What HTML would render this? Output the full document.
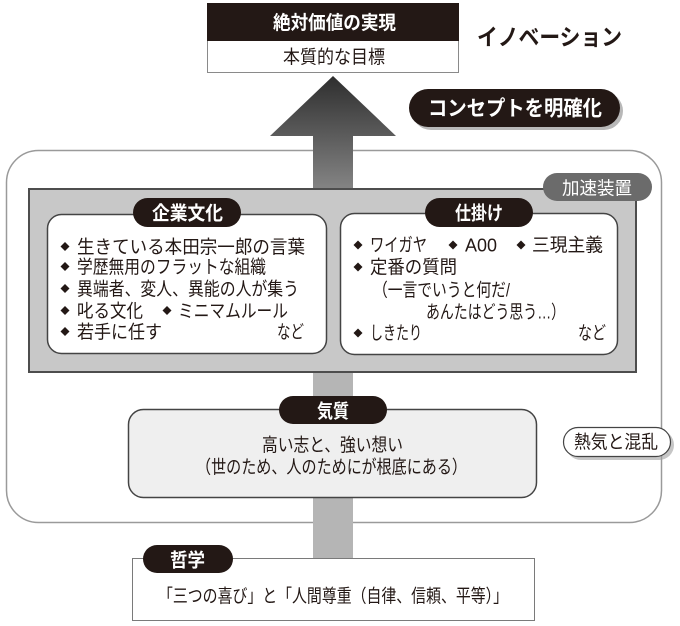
<!DOCTYPE html>
<html>
<head>
<meta charset="utf-8">
<style>
  html,body{margin:0;padding:0;background:#fff;}
  svg{display:block;}
  text{font-family:"Liberation Sans","Noto Sans CJK JP",sans-serif;}
</style>
</head>
<body>
<svg width="680" height="626" viewBox="0 0 680 626" xmlns="http://www.w3.org/2000/svg">
  <defs>
    <linearGradient id="ag" gradientUnits="userSpaceOnUse" x1="0" y1="76" x2="0" y2="190">
      <stop offset="0" stop-color="#2e2e2e"/>
      <stop offset="1" stop-color="#858585"/>
    </linearGradient>
  </defs>

  <!-- outer rounded container -->
  <rect x="6.5" y="150.5" width="655" height="372" rx="32" ry="32" fill="#fff" stroke="#9a9a9a" stroke-width="1.5"/>

  <!-- arrow upper part -->
  <polygon points="333,76 396,136 353,136 353,190 313,190 313,136 270,136" fill="url(#ag)"/>
  <!-- arrow lower shaft -->
  <rect x="313" y="371" width="40" height="188" fill="#b5b5b5"/>

  <!-- top box -->
  <rect x="207.5" y="3.5" width="251" height="69" fill="#fff" stroke="#8a8a8a" stroke-width="1"/>
  <rect x="207" y="3" width="252" height="38" fill="#231815"/>
  <text x="273" y="29" fill="#fff" font-size="19" font-weight="bold" textLength="123" lengthAdjust="spacingAndGlyphs">絶対価値の実現</text>
  <text x="283" y="63.5" fill="#231815" font-size="18.5" textLength="102" lengthAdjust="spacingAndGlyphs">本質的な目標</text>

  <!-- イノベーション -->
  <text x="477" y="45" fill="#231815" font-size="23" font-weight="bold" textLength="145" lengthAdjust="spacingAndGlyphs">イノベーション</text>

  <!-- concept pill -->
  <rect x="412" y="92" width="211" height="38" rx="19" fill="#9a9a9a" opacity="0.7"/>
  <rect x="409" y="89" width="211" height="38" rx="19" fill="#231815"/>
  <text x="428" y="115.5" fill="#fff" font-size="21" font-weight="bold" textLength="174" lengthAdjust="spacingAndGlyphs">コンセプトを明確化</text>

  <!-- gray panel -->
  <rect x="29" y="189" width="607" height="183" fill="#c8c8c8" stroke="#4d4d4d" stroke-width="2"/>

  <!-- 加速装置 pill -->
  <rect x="543" y="173" width="109" height="28" rx="14" fill="#6b6b6b"/>
  <text x="562" y="194.5" fill="#fff" font-size="18" textLength="70" lengthAdjust="spacingAndGlyphs">加速装置</text>

  <!-- left box -->
  <rect x="47.5" y="214.5" width="279" height="139" rx="14" fill="#fff" stroke="#444" stroke-width="1.5"/>
  <rect x="133" y="198" width="108" height="29" rx="14.5" fill="#231815"/>
  <text x="152" y="219.5" fill="#fff" font-size="19" font-weight="bold" textLength="71" lengthAdjust="spacingAndGlyphs">企業文化</text>

  <g fill="#231815">
    <polygon points="65,242 69.5,246.5 65,251 60.5,246.5"/>
    <polygon points="65,262 69.5,266.5 65,271 60.5,266.5"/>
    <polygon points="65,284 69.5,288.5 65,293 60.5,288.5"/>
    <polygon points="65,306 69.5,310.5 65,315 60.5,310.5"/>
    <polygon points="167,306 171.5,310.5 167,315 162.5,310.5"/>
    <polygon points="65,327 69.5,331.5 65,336 60.5,331.5"/>
  </g>
  <g fill="#231815" font-size="18.5">
    <text x="77" y="253.5" textLength="228" lengthAdjust="spacingAndGlyphs">生きている本田宗一郎の言葉</text>
    <text x="77" y="273.5" textLength="189" lengthAdjust="spacingAndGlyphs">学歴無用のフラットな組織</text>
    <text x="77" y="295.5" textLength="222" lengthAdjust="spacingAndGlyphs">異端者、変人、異能の人が集う</text>
    <text x="77" y="317.5" textLength="66" lengthAdjust="spacingAndGlyphs">叱る文化</text>
    <text x="178" y="317.5" textLength="110" lengthAdjust="spacingAndGlyphs">ミニマムルール</text>
    <text x="77" y="338.5" textLength="85" lengthAdjust="spacingAndGlyphs">若手に任す</text>
    <text x="277" y="338.5" textLength="27" lengthAdjust="spacingAndGlyphs">など</text>
  </g>

  <!-- right box -->
  <rect x="340.5" y="213.5" width="277" height="141" rx="14" fill="#fff" stroke="#444" stroke-width="1.5"/>
  <rect x="425" y="198" width="108" height="29" rx="14.5" fill="#231815"/>
  <text x="455" y="219.5" fill="#fff" font-size="19" font-weight="bold" textLength="48" lengthAdjust="spacingAndGlyphs">仕掛け</text>

  <g fill="#231815">
    <polygon points="358,240.5 362.5,245 358,249.5 353.5,245"/>
    <polygon points="453,240.5 457.5,245 453,249.5 448.5,245"/>
    <polygon points="521,240.5 525.5,245 521,249.5 516.5,245"/>
    <polygon points="358,262.5 362.5,267 358,271.5 353.5,267"/>
    <polygon points="358,328.5 362.5,333 358,337.5 353.5,333"/>
  </g>
  <g fill="#231815" font-size="18.5">
    <text x="370" y="251.5" textLength="57" lengthAdjust="spacingAndGlyphs">ワイガヤ</text>
    <text x="465" y="251.5" textLength="32" lengthAdjust="spacingAndGlyphs">A00</text>
    <text x="532" y="251.5" textLength="71" lengthAdjust="spacingAndGlyphs">三現主義</text>
    <text x="370" y="273.5" textLength="87" lengthAdjust="spacingAndGlyphs">定番の質問</text>
    <text x="373" y="296.5" textLength="137" lengthAdjust="spacingAndGlyphs">（一言でいうと何だ/</text>
    <text x="426" y="318.5" textLength="139" lengthAdjust="spacingAndGlyphs">あんたはどう思う…）</text>
    <text x="370" y="339.5" textLength="52" lengthAdjust="spacingAndGlyphs">しきたり</text>
    <text x="578" y="339.5" textLength="28" lengthAdjust="spacingAndGlyphs">など</text>
  </g>

  <!-- 気質 box -->
  <rect x="128.5" y="409.5" width="408" height="88" rx="15" fill="#efefef" stroke="#444" stroke-width="1.5"/>
  <rect x="279" y="396" width="108" height="28" rx="14" fill="#231815"/>
  <text x="317" y="417.5" fill="#fff" font-size="19" font-weight="bold" textLength="32" lengthAdjust="spacingAndGlyphs">気質</text>
  <text x="262" y="451.5" fill="#231815" font-size="18.5" textLength="141" lengthAdjust="spacingAndGlyphs">高い志と、強い想い</text>
  <text x="196" y="473.5" fill="#231815" font-size="18.5" textLength="271" lengthAdjust="spacingAndGlyphs">（世のため、人のためにが根底にある）</text>

  <!-- 熱気と混乱 pill -->
  <rect x="566" y="430" width="108" height="30" rx="15" fill="#a0a0a0" opacity="0.6"/>
  <rect x="563.5" y="427.5" width="107" height="29" rx="14.5" fill="#fff" stroke="#444" stroke-width="1.2"/>
  <text x="574" y="448.5" fill="#231815" font-size="18.5" textLength="84" lengthAdjust="spacingAndGlyphs">熱気と混乱</text>

  <!-- 哲学 box -->
  <rect x="132.5" y="558.5" width="402" height="62" fill="#fff" stroke="#7a7a7a" stroke-width="1"/>
  <rect x="143" y="545" width="90" height="28" rx="14" fill="#231815"/>
  <text x="170" y="566.5" fill="#fff" font-size="19" font-weight="bold" textLength="35" lengthAdjust="spacingAndGlyphs">哲学</text>
  <text x="158" y="602.5" fill="#231815" font-size="18.5" textLength="350" lengthAdjust="spacingAndGlyphs">「三つの喜び」と「人間尊重（自律、信頼、平等）」</text>
</svg>
</body>
</html>
